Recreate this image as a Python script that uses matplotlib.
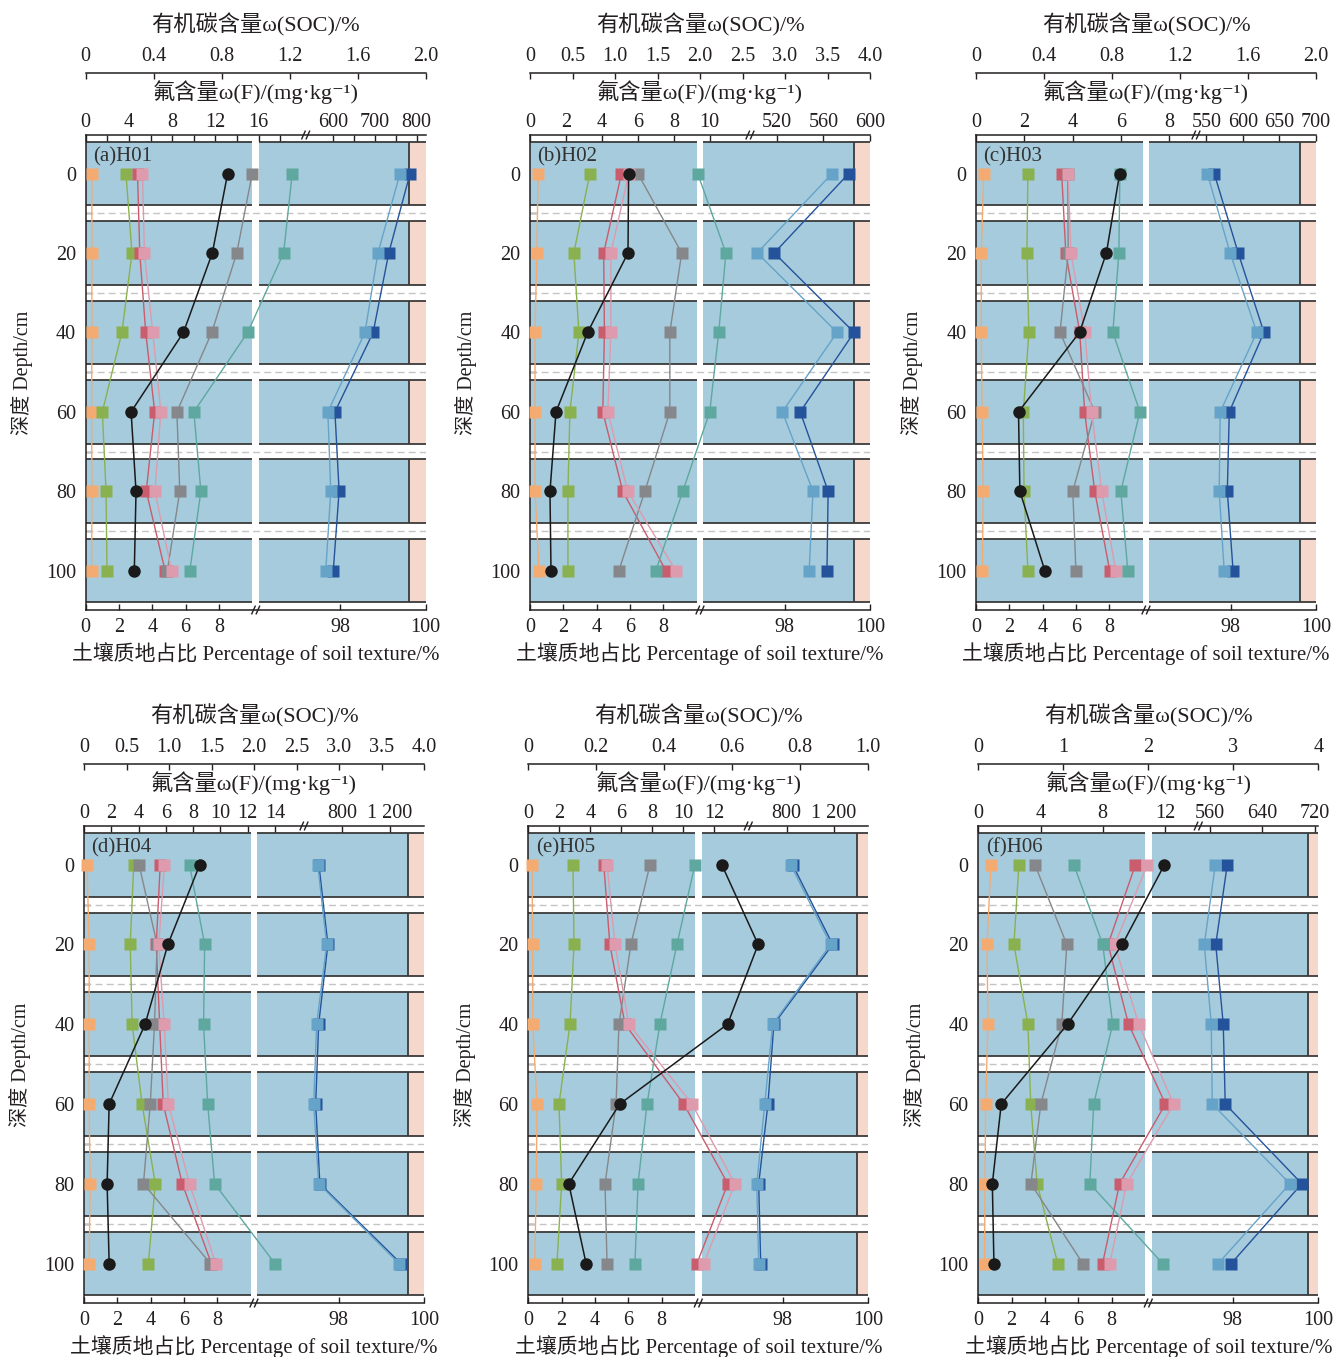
import numpy as np
import matplotlib
matplotlib.use("Agg")
import matplotlib.pyplot as plt

plt.rcParams["font.family"] = ["Liberation Serif", "Noto Sans CJK SC", "DejaVu Sans"]

FIG_W, FIG_H = 1333, 1357

PANELS = ["(a)H01", "(b)H02", "(c)H03", "(d)H04", "(e)H05", "(f)H06"]
DEPTHS = [0, 20, 40, 60, 80, 100]
GAP_DEPTHS = [10, 30, 50, 70, 90]

# one row per profile (H01..H06), one column per depth (0..100 cm)
# fluorine fractions, mg/kg
f_orange = [
    [0.57, 0.57, 0.57, 0.55, 0.57, 0.55],
    [0.45, 0.38, 0.28, 0.28, 0.28, 0.50],
    [0.32, 0.22, 0.22, 0.25, 0.30, 0.26],
    [0.22, 0.38, 0.38, 0.38, 0.45, 0.38],
    [0.24, 0.28, 0.29, 0.56, 0.51, 0.42],
    [0.81, 0.56, 0.62, 0.47, 0.43, 0.40],
]
f_green = [
    [3.72, 4.28, 3.35, 1.54, 1.88, 1.97],
    [3.33, 2.44, 2.72, 2.22, 2.11, 2.11],
    [2.15, 2.11, 2.19, 1.96, 1.99, 2.15],
    [3.65, 3.39, 3.53, 4.26, 5.23, 4.72],
    [2.88, 2.95, 2.69, 1.98, 2.15, 1.85],
    [2.61, 2.29, 3.19, 3.37, 3.78, 5.11],
]
f_red = [
    [4.79, 5.00, 5.55, 6.38, 5.60, 7.34],
    [5.09, 4.10, 4.14, 4.05, 5.16, 7.56],
    [3.55, 3.72, 4.30, 4.50, 4.92, 5.54],
    [5.59, 5.30, 5.55, 5.81, 7.21, 9.34],
    [4.87, 5.26, 6.24, 10.03, 12.87, 10.88],
    [10.10, 8.34, 9.66, 12.03, 9.08, 7.99],
]
f_gray = [
    [15.4, 13.97, 11.66, 8.43, 8.70, 7.55],
    [6.00, 8.44, 7.78, 7.78, 6.39, 4.94],
    [3.80, 3.82, 3.48, 4.92, 4.01, 4.14],
    [4.04, 5.36, 5.17, 4.86, 4.36, 9.27],
    [7.85, 6.62, 5.85, 5.66, 4.95, 5.08],
    [3.64, 5.69, 5.37, 4.02, 3.38, 6.72],
]
f_pink = [
    [5.25, 5.43, 6.20, 6.95, 6.40, 7.94],
    [5.50, 4.50, 4.50, 4.33, 5.44, 8.11],
    [3.82, 3.93, 4.51, 4.79, 5.21, 5.79],
    [5.90, 5.48, 5.88, 6.19, 7.74, 9.66],
    [5.08, 5.59, 6.49, 10.56, 13.33, 11.33],
    [10.87, 8.77, 10.31, 12.56, 9.54, 8.45],
]
f_teal = [
    [19.1, 18.3, 14.98, 10.0, 10.65, 9.63],
    [9.33, 10.9, 10.5, 10.0, 8.5, 7.0],
    [5.96, 5.92, 5.67, 6.79, 6.00, 6.29],
    [7.74, 8.85, 8.77, 9.07, 9.58, 14.0],
    [10.75, 9.59, 8.49, 7.66, 7.08, 6.88],
    [6.14, 8.00, 8.64, 7.42, 7.17, 11.85],
]
f_darkblue = [
    [784, 733, 695.6, 604, 614, 600],
    [581.7, 517.7, 586.3, 540, 564, 563],
    [560.8, 593.6, 628.8, 581.4, 578.7, 586.6],
    [603, 679, 601, 576, 611, 1295],
    [851, 1189, 693, 643, 565, 582],
    [586.8, 569.3, 580.7, 583.7, 700, 592.8],
]
f_lightblue = [
    [760, 707, 676, 587, 594, 582],
    [567.4, 503, 571.7, 524.6, 551, 547.7],
    [551.4, 582.5, 619, 569, 567.6, 574.4],
    [593, 669, 584, 559, 601, 1279],
    [835, 1172, 683, 616, 549, 565],
    [568.6, 551.9, 562.5, 564, 682, 573],
]
# organic carbon, %
soc = [
    [0.835, 0.745, 0.575, 0.267, 0.296, 0.286],
    [1.16, 1.153, 0.678, 0.306, 0.235, 0.247],
    [0.845, 0.767, 0.609, 0.25, 0.258, 0.405],
    [1.362, 0.987, 0.719, 0.296, 0.272, 0.296],
    [0.569, 0.676, 0.586, 0.269, 0.119, 0.17],
    [2.19, 1.694, 1.05, 0.27, 0.165, 0.184],
]
# blue part of the soil texture bar, % (rest up to 100 is pink)
texture_blue = [
    [99.62] * 6,
    [99.63] * 6,
    [99.63] * 6,
    [99.62] * 6,
    [99.73] * 6,
    [99.75] * 6,
]

SOC_MAX = [2.0, 4.0, 2.0, 4.0, 1.0, 4.0]
SOC_STEP = [0.4, 0.5, 0.4, 0.5, 0.2, 1.0]

# broken F axis: left part 0..F_LEFT_END, right part F_RIGHT_SPAN
F_LEFT_END = [20.31, 12.22, 9.10, 16.11, 14.17, 14.12]
F_RIGHT_SPAN = [(534.7, 821.5), (497.1, 600), (536.3, 700),
                (480, 1490), (480, 1490), (543.3, 725)]
F_TICKS = [
    [0, 2, 4, 6, 8, 10, 12, 14, 16, 18, 600, 650, 700, 750, 800],
    [0, 2, 4, 6, 8, 10, 520, 560, 600],
    [0, 2, 4, 6, 8, 550, 600, 650, 700],
    [0, 2, 4, 6, 8, 10, 12, 14, 800, 1200],
    [0, 2, 4, 6, 8, 10, 12, 800, 1200],
    [0, 4, 8, 12, 560, 640, 720],
]
F_LABELED = [
    [0, 4, 8, 12, 16, 600, 700, 800],
    [0, 2, 4, 6, 8, 10, 520, 560, 600],
    [0, 2, 4, 6, 8, 550, 600, 650, 700],
    [0, 2, 4, 6, 8, 10, 12, 14, 800, 1200],
    [0, 2, 4, 6, 8, 10, 12, 800, 1200],
    [0, 4, 8, 12, 560, 640, 720],
]

TEXTURE_TICKS = [0, 2, 4, 6, 8, 98, 100]

# layout (pixels)
AX_LEFT_PX = [85.7, 530, 976, 84, 528.3, 978.3]
AX_W_PX = 340
ROW_PX = [(135, 610), (826, 1303)]

BLUE_BG = "#a6cbdd"
PINK_BG = "#f5d7cc"
EDGE = "#3a3a3a"
DASH = "#c4c4c4"
INK = "#231f20"
SERIES = [
    (f_orange, "#f4ab72"),
    (f_green, "#8ab14f"),
    (f_red, "#c95c6d"),
    (f_gray, "#85878a"),
    (f_pink, "#dd9bad"),
    (f_teal, "#5ea89f"),
    (f_darkblue, "#24529b"),
    (f_lightblue, "#66a3c8"),
]
SOC_COLOR = "#1a1a1a"
FS = 14.5
FS_TITLE = 16


def piecewise(xs, fs):
    xs = np.asarray(xs, float)
    fs = np.asarray(fs, float)

    def _map(v, a, b):
        v = np.asarray(v, float)
        out = np.interp(v, a, b)
        lo = (b[1] - b[0]) / (a[1] - a[0])
        hi = (b[-1] - b[-2]) / (a[-1] - a[-2])
        out = np.where(v < a[0], b[0] + (v - a[0]) * lo, out)
        out = np.where(v > a[-1], b[-1] + (v - a[-1]) * hi, out)
        return out

    return (lambda v: _map(v, xs, fs)), (lambda f: _map(f, fs, xs))


def break_mark(ax, xfrac, yfrac):
    for dx in (-0.0065, 0.0065):
        ax.plot([xfrac + dx - 0.005, xfrac + dx + 0.005],
                [yfrac - 0.008, yfrac + 0.008],
                transform=ax.transAxes, color=INK, lw=1.0,
                clip_on=False, zorder=6)


def fmt_f(v):
    return f"{v:,}".replace(",", " ")


def fmt_soc(v, step):
    if v == 0:
        return "0"
    return f"{v:.0f}" if step >= 1 else f"{v:.1f}"


fig = plt.figure(figsize=(FIG_W / 100, FIG_H / 100), dpi=100)

for i, name in enumerate(PANELS):
    top_px, bot_px = ROW_PX[i // 3]
    ax = fig.add_axes([AX_LEFT_PX[i] / FIG_W, 1 - bot_px / FIG_H,
                       AX_W_PX / FIG_W, (bot_px - top_px) / FIG_H])

    # soil texture axis (bottom), broken between 10 and 96.1 %
    tex_fwd, tex_inv = piecewise([0, 10, 96.1, 100], [0, 0.49, 0.51, 1.0])
    ax.set_xscale("function", functions=(tex_fwd, tex_inv))
    ax.set_xlim(0, 100)
    ax.set_ylim(109.9, -9.7)

    blue = texture_blue[i]
    ax.barh(DEPTHS, blue, height=16, left=0, color=BLUE_BG, zorder=1)
    ax.barh(DEPTHS, [100 - b for b in blue], height=16, left=blue,
            color=PINK_BG, zorder=1)
    ax.hlines([d - 8 for d in DEPTHS] + [d + 8 for d in DEPTHS], 0, 100,
              colors=EDGE, lw=1.3, zorder=1.2)
    ax.vlines(blue, [d - 8 for d in DEPTHS], [d + 8 for d in DEPTHS],
              colors=EDGE, lw=1.3, zorder=1.2)
    ax.axvspan(10, 96.1, color="white", lw=0, zorder=1.5)
    ax.hlines(GAP_DEPTHS, 0, 100, colors=DASH, lw=1.0,
              linestyles=(0, (5, 3)), zorder=1.6)

    ax.set_xticks(TEXTURE_TICKS)
    ax.set_xticklabels([str(t) for t in TEXTURE_TICKS])
    ax.tick_params(axis="x", direction="in", length=4, width=1, pad=6,
                   labelsize=FS, colors=INK)
    ax.set_yticks(DEPTHS)
    ax.set_yticks(GAP_DEPTHS, minor=True)
    ax.tick_params(axis="y", which="major", length=0, pad=7, labelsize=FS,
                   colors=INK)
    ax.tick_params(axis="y", which="minor", direction="in", length=4,
                   width=1, colors=INK)
    for sp in ("top", "right"):
        ax.spines[sp].set_visible(False)
    for sp in ("left", "bottom"):
        ax.spines[sp].set_color(INK)
        ax.spines[sp].set_linewidth(1.1)
    break_mark(ax, float(tex_fwd((10 + 96.1) / 2)), 0.0)

    ax.text(0.022, 0.955, name, transform=ax.transAxes, ha="left",
            va="center", fontsize=15, color="#333333", zorder=7)
    ax.text(-0.187, 0.5, "深度 Depth/cm", transform=ax.transAxes,
            rotation=90, ha="center", va="center", fontsize=FS, color=INK)
    ax.annotate("土壤质地占比 Percentage of soil texture/%", xy=(0.5, 0),
                xycoords="axes fraction", xytext=(0, -31),
                textcoords="offset points", ha="center", va="center",
                fontsize=15, color=INK)

    # fluorine axis (top), broken
    lb = F_LEFT_END[i]
    rb, re = F_RIGHT_SPAN[i]
    f_fwd, f_inv = piecewise([0, lb, rb, re], [0, 0.646, 0.648, 1.0])
    axf = ax.twiny()
    axf.set_xscale("function", functions=(f_fwd, f_inv))
    axf.set_xlim(0, re)
    axf.set_xticks(F_TICKS[i])
    axf.set_xticklabels([fmt_f(t) if t in F_LABELED[i] else ""
                         for t in F_TICKS[i]])
    axf.tick_params(axis="x", direction="in", length=4, width=1, pad=2,
                    labelsize=FS, colors=INK)
    for sp in ("bottom", "left", "right"):
        axf.spines[sp].set_visible(False)
    axf.spines["top"].set_color(INK)
    axf.spines["top"].set_linewidth(1.1)
    break_mark(axf, float(f_fwd((lb + rb) / 2)), 1.0)

    for vals, col in SERIES:
        axf.plot(vals[i], DEPTHS, color=col, lw=1.0, marker="s", ms=8.5,
                 mec="none", clip_on=False)
    axf.annotate("氟含量ω(F)/(mg·kg⁻¹)", xy=(0.5, 1),
                 xycoords="axes fraction", xytext=(0, 31),
                 textcoords="offset points", ha="center", va="center",
                 fontsize=FS_TITLE, color=INK)

    # organic carbon axis (top, offset)
    axs = ax.twiny()
    axs.set_xlim(0, SOC_MAX[i])
    soc_ticks = np.round(np.arange(0, SOC_MAX[i] + 1e-9, SOC_STEP[i]), 2)
    axs.set_xticks(soc_ticks)
    axs.set_xticklabels([fmt_soc(t, SOC_STEP[i]) for t in soc_ticks])
    axs.tick_params(axis="x", direction="in", length=4, width=1, pad=5,
                    labelsize=FS, colors=INK)
    for sp in ("bottom", "left", "right"):
        axs.spines[sp].set_visible(False)
    axs.spines["top"].set_position(("outward", 45))
    axs.spines["top"].set_color(INK)
    axs.spines["top"].set_linewidth(1.1)
    axs.plot(soc[i], DEPTHS, color=SOC_COLOR, lw=1.1, marker="o", ms=9,
             mec="none", clip_on=False)
    axs.annotate("有机碳含量ω(SOC)/%", xy=(0.5, 1),
                 xycoords="axes fraction", xytext=(0, 79.5),
                 textcoords="offset points", ha="center", va="center",
                 fontsize=FS_TITLE, color=INK)

fig.savefig("out.png", dpi=100, facecolor="white")
